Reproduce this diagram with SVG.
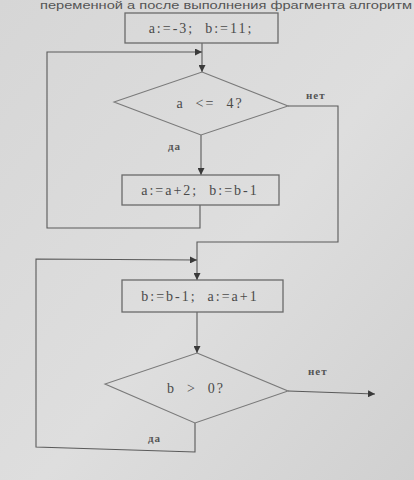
<svg xmlns="http://www.w3.org/2000/svg" width="414" height="480" viewBox="0 0 414 480">
<defs>
<linearGradient id="bg" x1="0" y1="0" x2="1" y2="1">
<stop offset="0" stop-color="#d6d6d6"/>
<stop offset="0.55" stop-color="#dedede"/>
<stop offset="1" stop-color="#d0d0d0"/>
</linearGradient>
<marker id="arr" viewBox="0 0 10 10" refX="10" refY="5" markerWidth="7" markerHeight="7" markerUnits="userSpaceOnUse" orient="auto">
<path d="M0,0 L10,5 L0,10 z" fill="#3a3a3a"/>
</marker>
</defs>
<style>
.box{fill:none;stroke:#6a6a6a;stroke-width:1.3}
.dia{fill:none;stroke:#7a7a7a;stroke-width:1.1}
.ln{fill:none;stroke:#5a5a5a;stroke-width:1.1}
.t{font-family:"Liberation Serif","DejaVu Serif",serif;font-size:14px;fill:#4a4a4a;letter-spacing:2px;white-space:pre}
.lbl{font-family:"Liberation Serif","DejaVu Serif",serif;font-size:11px;fill:#555;font-weight:bold;letter-spacing:1px}
.hdr{font-family:"Liberation Sans","DejaVu Sans",sans-serif;font-size:10px;fill:#555}
</style>
<rect width="414" height="480" fill="url(#bg)"/>
<text class="hdr" x="40" y="9" textLength="372" lengthAdjust="spacingAndGlyphs">переменной а после выполнения фрагмента алгоритм</text>

<g id="connectors">
<path class="ln" d="M202,43 V72" marker-end="url(#arr)"/>
<path class="ln" d="M201,135 V175" marker-end="url(#arr)"/>
<path class="ln" d="M200,205 V228 H47 V52 H202" marker-end="url(#arr)"/>
<path class="ln" d="M288,106 H338 V242 H197 V280" marker-end="url(#arr)"/>
<path class="ln" d="M197,312 V353" marker-end="url(#arr)"/>
<path class="ln" d="M195,423 V452 L36,447 V259 L197,260" marker-end="url(#arr)"/>
<path class="ln" d="M288,391 L375,394" marker-end="url(#arr)"/>
<text class="lbl" x="306" y="99">нет</text>
<text class="lbl" x="168" y="150">да</text>
<text class="lbl" x="308" y="375">нет</text>
<text class="lbl" x="148" y="442">да</text>
</g>

<g id="init">
<rect class="box" x="125" y="13" width="153" height="30"/>
<text class="t" x="201" y="33" text-anchor="middle" xml:space="preserve">a:=-3;  b:=11;</text>
</g>

<g id="cond1">
<path class="dia" d="M202,72 L288,106 L201,135 L114,102 Z"/>
<text class="t" x="210" y="108" text-anchor="middle" xml:space="preserve">a  &lt;=  4?</text>
</g>

<g id="body1">
<rect class="box" x="122" y="175" width="157" height="30"/>
<text class="t" x="200" y="195" text-anchor="middle" xml:space="preserve">a:=a+2;  b:=b-1</text>
</g>

<g id="body2">
<rect class="box" x="122" y="280" width="161" height="32"/>
<text class="t" x="200" y="301" text-anchor="middle" xml:space="preserve">b:=b-1;  a:=a+1</text>
</g>

<g id="cond2">
<path class="dia" d="M197,353 L288,391 L195,423 L105,384 Z"/>
<text class="t" x="196" y="393" text-anchor="middle" xml:space="preserve">b  &gt;  0?</text>
</g>
</svg>
